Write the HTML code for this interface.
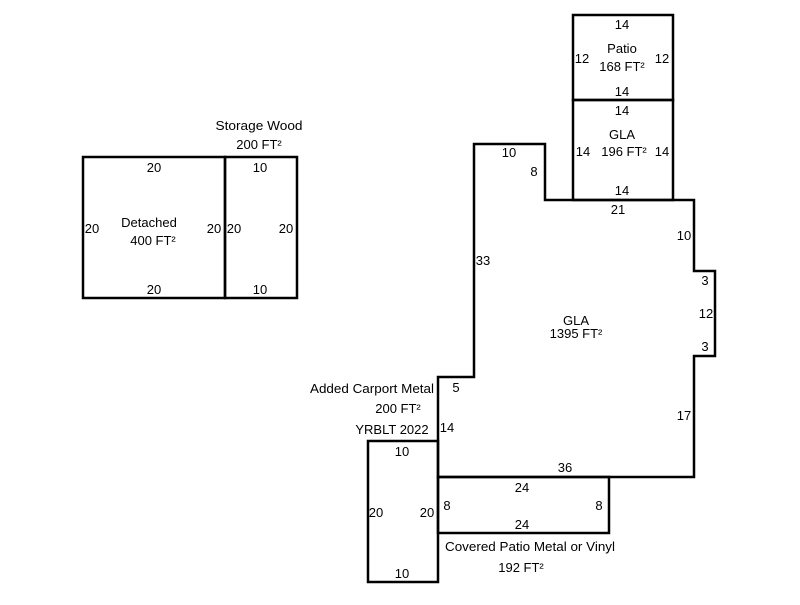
<!DOCTYPE html>
<html><head><meta charset="utf-8"><style>
html,body{margin:0;padding:0;background:#fff;}
svg text{font-family:"Liberation Sans",Arial,sans-serif;font-size:13px;fill:#000;}
</style></head><body>
<svg width="800" height="600" viewBox="0 0 800 600" xmlns="http://www.w3.org/2000/svg">
<g fill="none" stroke="#000" stroke-width="2.5">
<rect x="83" y="157" width="142" height="141"/>
<rect x="225" y="157" width="72" height="141"/>
<rect x="573" y="15" width="100" height="85"/>
<rect x="573" y="100" width="100" height="100"/>
<polygon points="474,144 545,144 545,200 694,200 694,271 715,271 715,356 694,356 694,477 438,477 438,377 474,377"/>
<rect x="438" y="477" width="171" height="56"/>
<rect x="368" y="441" width="70" height="141"/>
</g>
<g text-anchor="middle">
<text x="154" y="172">20</text>
<text x="154" y="294">20</text>
<text x="92" y="233">20</text>
<text x="214" y="233">20</text>
<text x="149" y="227">Detached</text>
<text x="153" y="245">400 FT²</text>
<text x="260" y="172">10</text>
<text x="260" y="294">10</text>
<text x="234" y="233">20</text>
<text x="286" y="233">20</text>
<text x="259" y="130" textLength="87" lengthAdjust="spacingAndGlyphs">Storage Wood</text>
<text x="259" y="149">200 FT²</text>
<text x="622" y="29">14</text>
<text x="582" y="63">12</text>
<text x="662" y="63">12</text>
<text x="622" y="53">Patio</text>
<text x="622" y="71">168 FT²</text>
<text x="622" y="96">14</text>
<text x="622" y="115">14</text>
<text x="622" y="139">GLA</text>
<text x="624" y="156">196 FT²</text>
<text x="583" y="156">14</text>
<text x="662" y="156">14</text>
<text x="622" y="195">14</text>
<text x="509" y="157">10</text>
<text x="534" y="176">8</text>
<text x="618" y="214">21</text>
<text x="684" y="240">10</text>
<text x="705" y="285">3</text>
<text x="706" y="318">12</text>
<text x="705" y="351">3</text>
<text x="576" y="325">GLA</text>
<text x="576" y="338">1395 FT²</text>
<text x="483" y="265">33</text>
<text x="684" y="420">17</text>
<text x="456" y="392">5</text>
<text x="447" y="432">14</text>
<text x="565" y="472">36</text>
<text x="522" y="492">24</text>
<text x="522" y="529">24</text>
<text x="447" y="510">8</text>
<text x="599" y="510">8</text>
<text x="372" y="393" textLength="124" lengthAdjust="spacingAndGlyphs">Added Carport Metal</text>
<text x="398" y="413">200 FT²</text>
<text x="392" y="434">YRBLT 2022</text>
<text x="402" y="456">10</text>
<text x="402" y="578">10</text>
<text x="376" y="517">20</text>
<text x="427" y="517">20</text>
<text x="530" y="551" textLength="170" lengthAdjust="spacingAndGlyphs">Covered Patio Metal or Vinyl</text>
<text x="521" y="572">192 FT²</text>
</g>
</svg>
</body></html>
